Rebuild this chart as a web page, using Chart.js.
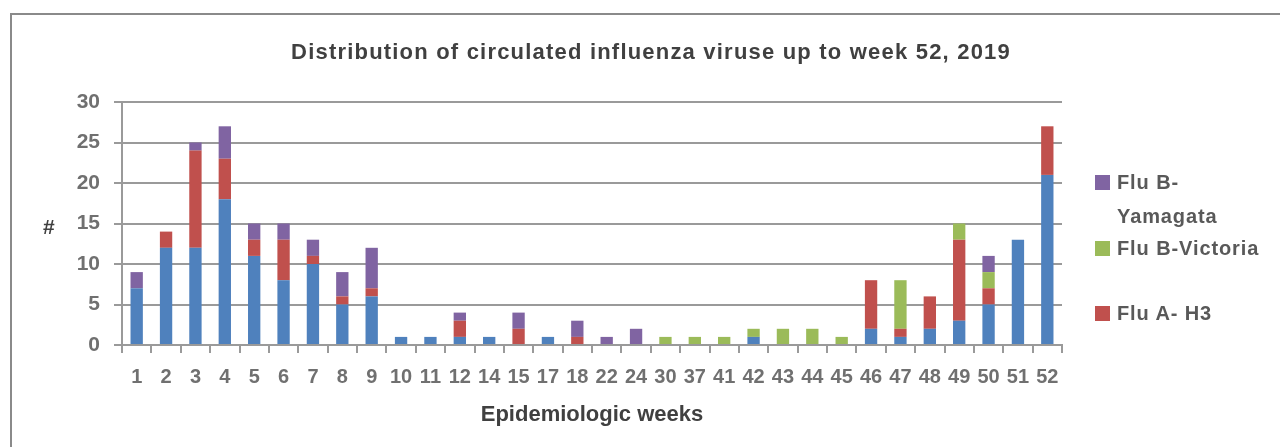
<!DOCTYPE html>
<html>
<head>
<meta charset="utf-8">
<script src="https://cdn.jsdelivr.net/npm/chart.js@4.4.0/dist/chart.umd.min.js"></script>
<style>
  body { margin: 0; background: #fff; }
  #caja { position: relative; width: 1280px; height: 447px; overflow: hidden; font-family: "Liberation Sans", Arial, sans-serif; font-weight: bold; }
  #marco { position: absolute; left: 10px; top: 13px; width: 1300px; height: 460px; border-left: 2px solid #8a8a8a; border-top: 2px solid #8a8a8a; }
  #grafico { position: absolute; left: 0; top: 0; }
  #titulo { position: absolute; left: 0; width: 1302px; top: 39px; text-align: center; font-size: 22px; letter-spacing: 1.2px; color: #404040; }
  #almohadilla { position: absolute; left: 43px; top: 215px; font-size: 21px; color: #404040; }
  .leyenda { position: absolute; left: 1095px; font-size: 20px; letter-spacing: 0.9px; color: #595959; line-height: 34px; }
  .leyenda span { display: inline-block; width: 15px; height: 15px; margin-right: 7px; vertical-align: -1px; }
</style>
</head>
<body>
<div id="caja">
  <div id="marco"></div>
  <canvas id="grafico" width="1280" height="447"></canvas>
  <div id="titulo">Distribution of circulated influenza viruse up to week 52, 2019</div>
  <div id="almohadilla">#</div>
  <div class="leyenda" style="top:165px"><span style="background:#8064a2"></span>Flu B-<br><span style="visibility:hidden"></span>Yamagata</div>
  <div class="leyenda" style="top:231px"><span style="background:#9bbb59"></span>Flu B-Victoria</div>
  <div class="leyenda" style="top:296px"><span style="background:#c0504d"></span>Flu A- H3</div>
</div>
<script>
const semanas = ['1','2','3','4','5','6','7','8','9','10','11','12','14','15','17','18','22','24','30','37','41','42','43','44','45','46','47','48','49','50','51','52']
const fluAH1 = [7,12,12,18,11,8,10,5,6,1,1,1,1,0,1,0,0,0,0,0,0,1,0,0,0,2,1,2,3,5,13,21]
const fluAH3 = [0,2,12,5,2,5,1,1,1,0,0,2,0,2,0,1,0,0,0,0,0,0,0,0,0,6,1,4,10,2,0,6]
const fluBVictoria = [0,0,0,0,0,0,0,0,0,0,0,0,0,0,0,0,0,0,1,1,1,1,2,2,1,0,6,0,2,2,0,0]
const fluBYamagata = [2,0,1,4,2,2,2,3,5,0,0,1,0,2,0,2,1,2,0,0,0,0,0,0,0,0,0,0,0,2,0,0]
const marcasY = [0,5,10,15,20,25,30]

const gris = '#9a9a9a'
const fuente = {family: '"Liberation Sans", Arial, sans-serif', weight: 'bold', size: 20}

function serie(nombre, datos, color){
	return {label: nombre, data: datos, backgroundColor: color, borderWidth: 0,
		barPercentage: 0.42, categoryPercentage: 1}
}

new Chart(document.getElementById('grafico'), {
	type: 'bar',
	data: {
		labels: semanas,
		datasets: [
			serie('Flu A- H1N1pdm09', fluAH1, '#4f81bd'),
			serie('Flu A- H3', fluAH3, '#c0504d'),
			serie('Flu B-Victoria', fluBVictoria, '#9bbb59'),
			serie('Flu B-Yamagata', fluBYamagata, '#8064a2')
		]
	},
	options: {
		responsive: false,
		animation: false,
		layout: {padding: {top: 102, right: 218, bottom: 19, left: 30}},
		plugins: {legend: {display: false}, tooltip: {enabled: false}},
		scales: {
			x: {
				stacked: true,
				afterFit: s => { s.height = 83 },
				grid: {color: gris, lineWidth: 2, drawOnChartArea: false, tickLength: 8, tickColor: gris},
				border: {color: gris, width: 2},
				ticks: {color: '#707070', font: fuente, padding: 12, maxRotation: 0, autoSkip: false},
				title: {display: true, text: 'Epidemiologic weeks', color: '#404040', font: {...fuente, size: 22}, padding: {top: 10, bottom: 0}}
			},
			y: {
				stacked: true,
				min: 0, max: 30,
				afterFit: s => { s.width = 92 },
				afterBuildTicks: s => { s.ticks = marcasY.map(v => ({value: v})) },
				grid: {color: gris, lineWidth: 2, tickLength: 8, tickColor: gris},
				border: {color: gris, width: 2},
				ticks: {color: '#707070', font: {...fuente, size: 21}, padding: 14}
			}
		}
	}
})
</script>
</body>
</html>
